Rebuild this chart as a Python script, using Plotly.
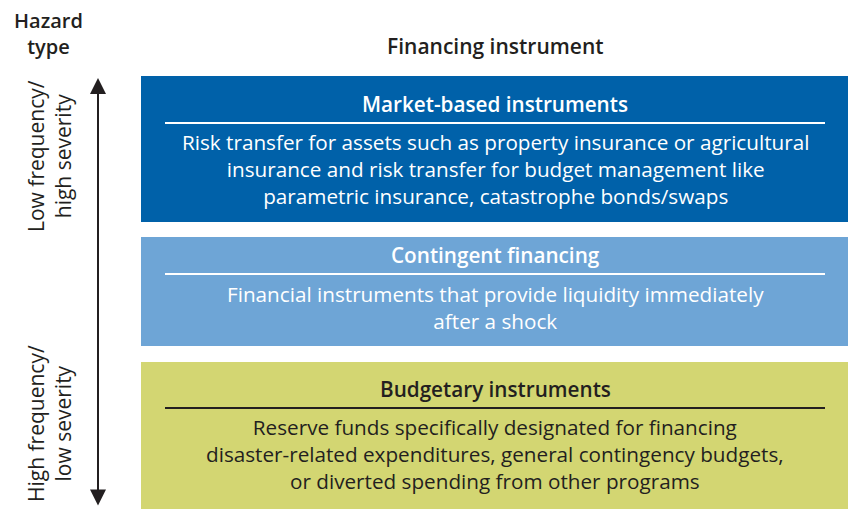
import plotly.graph_objects as go

# ---- data ----
titles = ["Market-based instruments", "Contingent financing", "Budgetary instruments"]
descriptions = [
    ["Risk transfer for assets such as property insurance or agricultural",
     "insurance and risk transfer for budget management like",
     "parametric insurance, catastrophe bonds/swaps"],
    ["Financial instruments that provide liquidity immediately",
     "after a shock"],
    ["Reserve funds specifically designated for financing",
     "disaster-related expenditures, general contingency budgets,",
     "or diverted spending from other programs"],
]
box_colors = ["#0061A9", "#6EA5D6", "#D3D672"]
text_colors = ["#FFFFFF", "#FFFFFF", "#231F20"]
axis_title = ["Hazard", "type"]
column_title = "Financing instrument"
side_labels = [["Low frequency/", "high severity"], ["High frequency/", "low severity"]]

# ---- layout geometry (pixels) ----
W, H = 848, 510
box_x0, box_x1 = 141, 848
line_x0, line_x1 = 165, 825
box_y = [(76, 222), (237, 346), (362, 509)]
title_off = [28, 18, 27]
rule_gap = 19
first_line_gap = 40
line_gap = 25
FONT = "Open Sans"
DARK = "#231F20"
BODY = 20.7

fig = go.Figure()
shapes = []
annotations = []

for i, (t, desc) in enumerate(zip(titles, descriptions)):
    y0, y1 = box_y[i]
    ty = y0 + title_off[i]
    shapes.append(dict(type="rect", xref="x", yref="y", x0=box_x0, x1=box_x1, y0=y0, y1=y1,
                       fillcolor=box_colors[i], line=dict(width=0), layer="below"))
    shapes.append(dict(type="line", xref="x", yref="y", x0=line_x0, x1=line_x1,
                       y0=ty + rule_gap, y1=ty + rule_gap,
                       line=dict(color=text_colors[i], width=2)))
    annotations.append(dict(x=(line_x0 + line_x1) / 2, y=ty, xref="x", yref="y",
                            text=t, showarrow=False,
                            font=dict(family=FONT, size=20.7, weight=600, color=text_colors[i]),
                            xanchor="center", yanchor="middle"))
    yc = ty + first_line_gap + (len(desc) - 1) * line_gap / 2
    annotations.append(dict(x=(line_x0 + line_x1) / 2, y=yc, xref="x", yref="y",
                            text="<br>".join(desc), showarrow=False, align="center",
                            font=dict(family=FONT, size=BODY, color=text_colors[i]),
                            xanchor="center", yanchor="middle"))

# headers
annotations.append(dict(x=48, y=33, xref="x", yref="y", text="<br>".join(axis_title),
                        showarrow=False, align="center",
                        font=dict(family=FONT, size=20, weight=600, color=DARK),
                        xanchor="center", yanchor="middle"))
annotations.append(dict(x=495, y=46, xref="x", yref="y", text=column_title,
                        showarrow=False, font=dict(family=FONT, size=21, weight=600, color=DARK),
                        xanchor="center", yanchor="middle"))

# side labels (rotated)
for pair, yc in zip(side_labels, [156, 424]):
    annotations.append(dict(x=49, y=yc, xref="x", yref="y", text="<br>".join(pair),
                            textangle=-90, showarrow=False, align="center",
                            font=dict(family=FONT, size=21, color=DARK),
                            xanchor="center", yanchor="middle"))

# double-headed arrow
annotations.append(dict(x=98, y=78, ax=98, ay=507, xref="x", yref="y", axref="x", ayref="y",
                        text="", showarrow=True, arrowhead=2, arrowsize=1.6, arrowwidth=2,
                        arrowside="end+start", arrowcolor=DARK))

fig.update_layout(
    width=W, height=H, margin=dict(l=0, r=0, t=0, b=0),
    paper_bgcolor="white", plot_bgcolor="white",
    xaxis=dict(range=[0, W], visible=False, fixedrange=True),
    yaxis=dict(range=[H, 0], visible=False, fixedrange=True),
    shapes=shapes, annotations=annotations, showlegend=False,
)
fig.write_html("out.html", config=dict(displayModeBar=False),
               post_script="document.body.style.margin='0';document.body.style.overflow='hidden';")
